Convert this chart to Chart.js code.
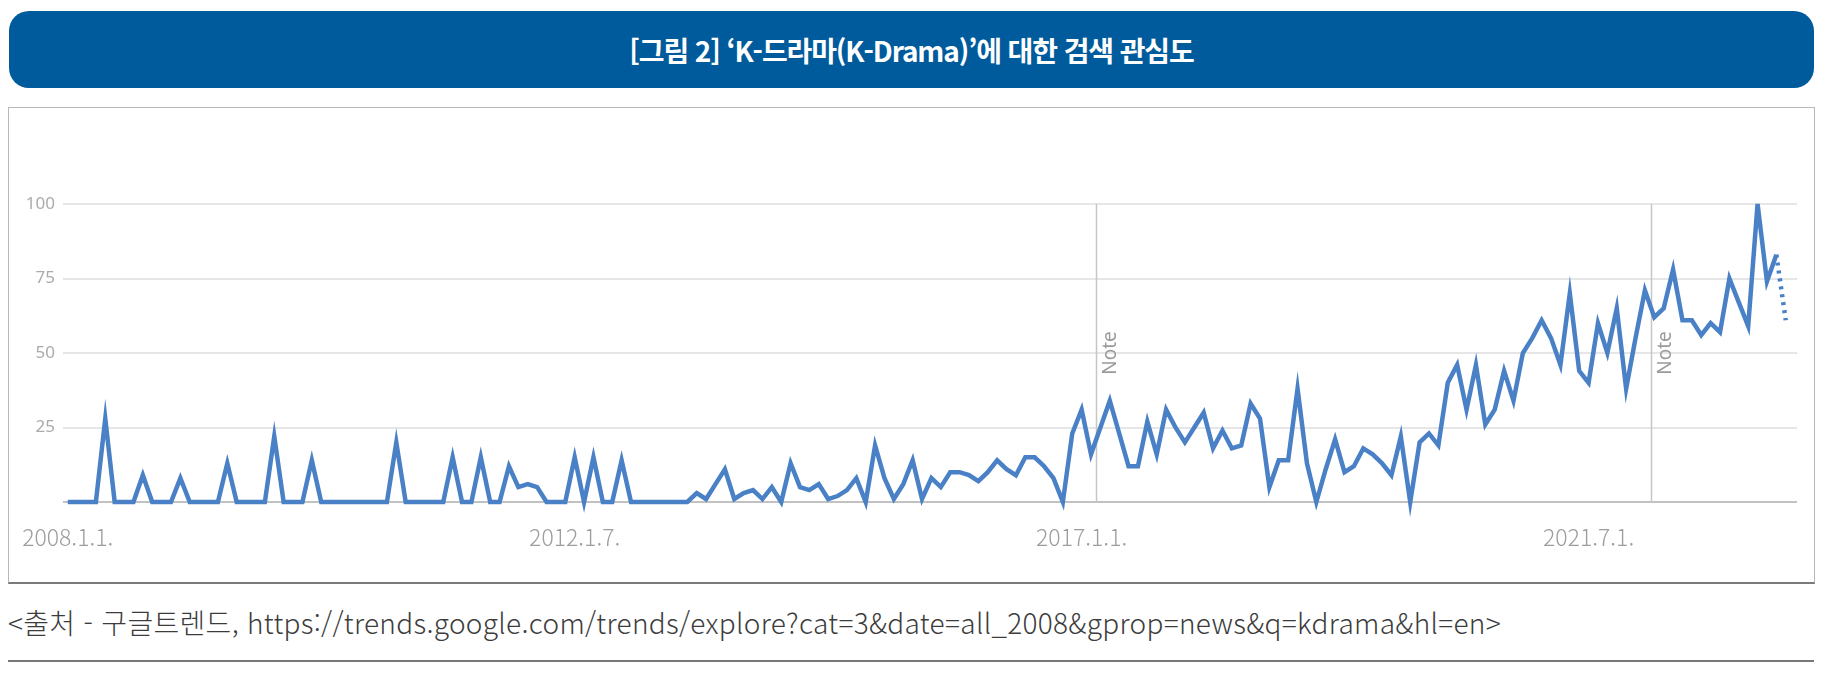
<!DOCTYPE html>
<html lang="ko">
<head>
<meta charset="utf-8">
<script src="https://cdn.jsdelivr.net/npm/chart.js@4"></script>
<style>
  html, body { margin: 0; padding: 0; background: #fff; }
  body { width: 1831px; height: 677px; position: relative; overflow: hidden; font-family: "Noto Sans CJK KR", "Noto Sans", sans-serif; }
  #title {
    position: absolute; left: 9px; top: 11px; width: 1805px; height: 77px;
    background: #005b9c; border-radius: 20px; color: #fff;
    font-size: 28px; font-weight: 700; letter-spacing: -1.1px;
    display: flex; align-items: center; justify-content: center;
  }
  #box {
    position: absolute; left: 8px; top: 107px; width: 1805px; height: 474px;
    border: 1px solid #b8b8b8; border-bottom: 2px solid #7a7a7a;
  }
  #box canvas { position: absolute; left: 0; top: 0; }
  #source {
    position: absolute; left: 8px; top: 602px; font-size: 28px; font-weight: 300;
    color: #3c3c3c; white-space: nowrap; letter-spacing: 0.3px; line-height: 40px;
  }
  #rule { position: absolute; left: 8px; top: 660px; width: 1806px; height: 0; border-top: 2px solid #777; }
</style>
</head>
<body>
<div id="title">[그림 2] ‘K-드라마(K-Drama)’에 대한 검색 관심도</div>
<div id="box"><canvas id="chart" width="1805" height="474"></canvas></div>
<div id="source">&lt;출처 - 구글트렌드, https://trends.google.com/trends/explore?cat=3&amp;date=all_2008&amp;gprop=news&amp;q=kdrama&amp;hl=en&gt;</div>
<div id="rule"></div>
<script>
// 월별 검색 관심도 (2008.1 ~ 2023.4), 그림에서 읽은 값
const interest = [
  0, 0, 0, 0, 28, 0, 0, 0, 9, 0, 0, 0,
  8, 0, 0, 0, 0, 13, 0, 0, 0, 0, 22, 0,
  0, 0, 14, 0, 0, 0, 0, 0, 0, 0, 0, 20,
  0, 0, 0, 0, 0, 15, 0, 0, 15, 0, 0, 12,
  5, 6, 5, 0, 0, 0, 15, 0, 15, 0, 0, 14,
  0, 0, 0, 0, 0, 0, 0, 3, 1, 6, 11, 1,
  3, 4, 1, 5, 0, 13, 5, 4, 6, 1, 2, 4,
  8, 0, 19, 8, 1, 6, 14, 1, 8, 5, 10, 10,
  9, 7, 10, 14, 11, 9, 15, 15, 12, 8, 0, 23,
  31, 16, 25, 34, 23, 12, 12, 27, 16, 31, 25, 20,
  25, 30, 18, 24, 18, 19, 33, 28, 5, 14, 14, 38,
  13, 0, 11, 21, 10, 12, 18, 16, 13, 9, 22, 0,
  20, 23, 19, 40, 46, 31, 46, 26, 31, 44, 34, 50,
  55, 61, 55, 46, 70, 44, 40, 60, 50, 65, 38, 55,
  71, 62, 65, 78, 61, 61, 56, 60, 57, 75, 67, 59,
  100, 74, 83, 61
];

// x축 눈금 (월 인덱스와 표시 문자열)
const tickIndex = [0, 54, 108, 162];
const tickLabels = ['2008.1.1.', '2012.1.7.', '2017.1.1.', '2021.7.1.'];

// Note 표시 위치 (월 인덱스)
const noteIndex = [109.5, 168.6];

const yTicks = [0, 25, 50, 75, 100];

const points = interest.map((v, i) => ({ x: i, y: v }));

const notePlugin = {
  id: 'notes',
  beforeDatasetsDraw(chart) {
    const { ctx, chartArea, scales } = chart;
    ctx.save();
    noteIndex.forEach(n => {
      const px = Math.round(scales.x.getPixelForValue(n)) + 0.5;
      ctx.strokeStyle = '#c6c6c6';
      ctx.lineWidth = 1.5;
      ctx.beginPath();
      ctx.moveTo(px, chartArea.top);
      ctx.lineTo(px, chartArea.bottom);
      ctx.stroke();

      ctx.save();
      ctx.translate(px + 5, scales.y.getPixelForValue(50));
      ctx.rotate(-Math.PI / 2);
      ctx.fillStyle = '#9a9a9a';
      ctx.font = '19px "Noto Sans", sans-serif';
      ctx.textAlign = 'center';
      ctx.textBaseline = 'top';
      ctx.fillText('Note', 0, 0);
      ctx.restore();
    });
    ctx.restore();
  }
};

new Chart(document.getElementById('chart'), {
  type: 'line',
  data: {
    datasets: [{
      data: points,
      borderColor: '#4a80c6',
      borderWidth: 4.5,
      pointRadius: 0,
      tension: 0,
      borderJoinStyle: 'miter',
      segment: {
        borderDash: c => c.p1DataIndex === interest.length - 1 ? [3, 5] : undefined
      }
    }]
  },
  options: {
    responsive: false,
    animation: false,
    clip: false,
    layout: { padding: { top: 96, right: 17, bottom: 0, left: 0 } },
    plugins: { legend: { display: false }, tooltip: { enabled: false } },
    scales: {
      x: {
        type: 'linear',
        min: -0.5,
        max: 184.2,
        afterBuildTicks: s => { s.ticks = tickIndex.map(v => ({ value: v })); },
        afterFit: s => { s.height = 80; },
        grid: { display: false },
        border: { display: false },
        ticks: {
          padding: 13,
          maxRotation: 0,
          autoSkip: false,
          color: '#9d9d9d',
          font: { family: '"Noto Sans CJK KR", "Noto Sans", sans-serif', size: 23, weight: 300 },
          callback: v => tickLabels[tickIndex.indexOf(v)]
        }
      },
      y: {
        min: 0,
        max: 100,
        afterBuildTicks: s => { s.ticks = yTicks.map(v => ({ value: v })); },
        afterFit: s => { s.width = 54; },
        border: { display: false },
        grid: {
          drawTicks: false,
          lineWidth: 2,
          color: c => c.tick.value === 0 ? '#c2c2c2' : '#e6e6e6'
        },
        ticks: {
          padding: 8,
          color: '#ababab',
          font: { family: '"Noto Sans", sans-serif', size: 17 },
          callback: v => v === 0 ? '' : v
        }
      }
    }
  },
  plugins: [notePlugin]
});
</script>
</body>
</html>
